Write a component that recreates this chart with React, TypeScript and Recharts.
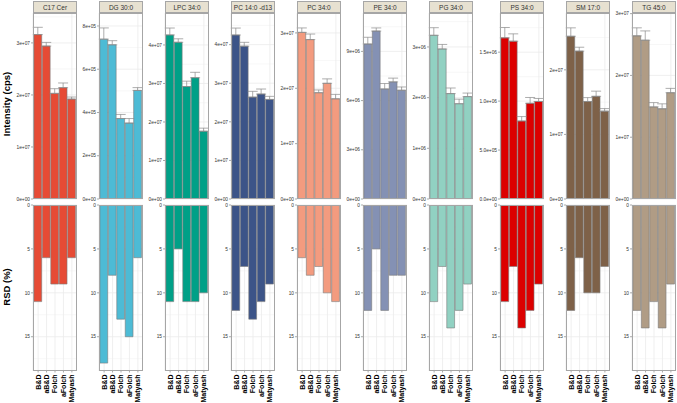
import React from 'react';
import { BarChart, Bar, XAxis, YAxis, CartesianGrid, ErrorBar } from 'recharts';

const methods = ['B&D', 'aB&D', 'Folch', 'aFolch', 'Matyash'];
const lipids = ['C17 Cer', 'DG 30:0', 'LPC 34:0', 'PC 14:0 -d13', 'PC 34:0', 'PE 34:0', 'PG 34:0', 'PS 34:0', 'SM 17:0', 'TG 45:0'];
const colors = ['#E64B35', '#4DBBD5', '#00A087', '#3C5488', '#F39B7F', '#8491B4', '#91D1C2', '#DC0000', '#7E6148', '#B09C85'];

// mean intensity (cps) per method
const meanC17Cer = [3.16e7, 2.94e7, 2.03e7, 2.14e7, 1.92e7];
const meanDG = [7.39e5, 7.13e5, 3.72e5, 3.51e5, 5.02e5];
const meanLPC = [4.26e7, 4.07e7, 2.92e7, 3.15e7, 1.76e7];
const meanPCd13 = [4.25e7, 3.96e7, 2.64e7, 2.72e7, 2.58e7];
const meanPC = [3.01e7, 2.88e7, 1.92e7, 2.09e7, 1.81e7];
const meanPE = [9.45e6, 1.024e7, 6.71e6, 7.14e6, 6.63e6];
const meanPG = [3.23e6, 2.96e6, 2.08e6, 1.88e6, 2.02e6];
const meanPS = [1.646e6, 1.612e6, 7.97e5, 9.78e5, 9.96e5];
const meanSM = [2.52e7, 2.29e7, 1.51e7, 1.59e7, 1.36e7];
const meanTG = [2.64e7, 2.57e7, 1.49e7, 1.46e7, 1.72e7];

// standard deviation (upper whisker)
const sdC17Cer = [1.4e6, 7e5, 9e5, 9e5, 4e5];
const sdDG = [5.2e4, 1.9e4, 1.9e4, 2.1e4, 1.3e4];
const sdLPC = [1.8e6, 9e5, 1.4e6, 1.4e6, 8e5];
const sdPCd13 = [1.8e6, 1.0e6, 1.5e6, 1.3e6, 8e5];
const sdPC = [8e5, 1.0e6, 5e5, 8e5, 8e5];
const sdPE = [4.1e5, 1.9e5, 3.3e5, 2.3e5, 2.0e5];
const sdPG = [1.5e5, 9e4, 1.1e5, 9e4, 7e4];
const sdPS = [1.06e5, 7.5e4, 4.5e4, 5.9e4, 3.1e4];
const sdSM = [1.3e6, 6e5, 6e5, 8e5, 4e5];
const sdTG = [1.3e6, 1.5e6, 7e5, 8e5, 7e5];

// RSD (%)
const rsdC17Cer = [11, 6, 9, 9, 6];
const rsdDG = [18, 8, 13, 15, 6];
const rsdLPC = [11, 5, 11, 11, 10];
const rsdPCd13 = [12, 7, 13, 11, 9];
const rsdPC = [6, 8, 7, 10, 11];
const rsdPE = [12, 5, 12, 8, 8];
const rsdPG = [11, 7, 14, 12, 9];
const rsdPS = [11, 7, 14, 12, 9];
const rsdSM = [12, 6, 10, 10, 7];
const rsdTG = [12, 14, 11, 14, 9];

// intensity axis ticks and labels
const ticksC17Cer = [0, 1e7, 2e7, 3e7];
const labelsC17Cer = ['0e+00', '1e+07', '2e+07', '3e+07'];
const ticksDG = [0, 2e5, 4e5, 6e5, 8e5];
const labelsDG = ['0e+00', '2e+05', '4e+05', '6e+05', '8e+05'];
const ticksLPC = [0, 1e7, 2e7, 3e7, 4e7];
const labelsLPC = ['0e+00', '1e+07', '2e+07', '3e+07', '4e+07'];
const ticksPCd13 = [0, 1e7, 2e7, 3e7, 4e7];
const labelsPCd13 = ['0e+00', '1e+07', '2e+07', '3e+07', '4e+07'];
const ticksPC = [0, 1e7, 2e7, 3e7];
const labelsPC = ['0e+00', '1e+07', '2e+07', '3e+07'];
const ticksPE = [0, 3e6, 6e6, 9e6];
const labelsPE = ['0e+00', '3e+06', '6e+06', '9e+06'];
const ticksPG = [0, 1e6, 2e6, 3e6];
const labelsPG = ['0e+00', '1e+06', '2e+06', '3e+06'];
const ticksPS = [0, 5e5, 1e6, 1.5e6];
const labelsPS = ['0.0e+00', '5.0e+05', '1.0e+06', '1.5e+06'];
const ticksSM = [0, 1e7, 2e7];
const labelsSM = ['0e+00', '1e+07', '2e+07'];
const ticksTG = [0, 1e7, 2e7, 3e7];
const labelsTG = ['0e+00', '1e+07', '2e+07', '3e+07'];

const axisMax = [3.575e7, 8.6e5, 4.83e7, 4.82e7, 3.36e7, 1.134e7, 3.67e6, 1.9e6, 2.88e7, 3.01e7];
const rsdTicks = [0, 5, 10, 15];
const rsdMax = 18.9;

const means = [meanC17Cer, meanDG, meanLPC, meanPCd13, meanPC, meanPE, meanPG, meanPS, meanSM, meanTG];
const sds = [sdC17Cer, sdDG, sdLPC, sdPCd13, sdPC, sdPE, sdPG, sdPS, sdSM, sdTG];
const rsds = [rsdC17Cer, rsdDG, rsdLPC, rsdPCd13, rsdPC, rsdPE, rsdPG, rsdPS, rsdSM, rsdTG];
const tickSets = [ticksC17Cer, ticksDG, ticksLPC, ticksPCd13, ticksPC, ticksPE, ticksPG, ticksPS, ticksSM, ticksTG];
const labelSets = [labelsC17Cer, labelsDG, labelsLPC, labelsPCd13, labelsPC, labelsPE, labelsPG, labelsPS, labelsSM, labelsTG];

// layout
const panelLeft = [33, 99, 165, 231, 297, 363, 429, 500, 566, 632];
const PW = 44;
const AXW = 30;
const TOP_Y = 13;
const TOP_H = 186;
const BOT_Y = 205;
const BOT_H = 166;
const XAX_H = 32;
const PAD = 5;
const FONT = 'Liberation Sans, Arial, sans-serif';
const BORDER = '#a6a6a6';
const GRID = '#ebebeb';

function minorsOf(ticks: number[], max: number) {
  const step = ticks[1] - ticks[0];
  const out: number[] = [];
  for (let v = step / 2; v < max; v += step) out.push(v);
  return out;
}

const MethodTick = (props: any) => {
  const { x, y, payload } = props;
  const yy = y;
  return (
    <text x={x} y={yy} transform={`rotate(-90 ${x} ${yy})`} textAnchor="end" dy="0.35em"
      fontSize={7} fontWeight="bold" fill="#000" fontFamily={FONT}>
      {payload.value}
    </text>
  );
};

function Facet({ i }: { i: number }) {
  const x = panelLeft[i];
  const color = colors[i];
  const ticks = tickSets[i];
  const labels = labelSets[i];
  const max = axisMax[i];
  const data = methods.map((m, k) => ({
    method: m,
    mean: means[i][k],
    err: [0, sds[i][k]],
    rsd: rsds[i][k],
  }));
  const minors = minorsOf(ticks, max);
  const rsdMinors = minorsOf(rsdTicks, rsdMax);
  const tickStyle = { fontSize: 4.8, fill: '#333', fontFamily: FONT };
  return (
    <>
      <div style={{
        position: 'absolute', left: x, top: 1, width: PW, height: 12, boxSizing: 'border-box',
        background: '#E7E1D1', border: `0.6px solid ${BORDER}`, fontFamily: FONT, fontSize: 6.5,
        color: '#333', textAlign: 'center', lineHeight: '11px', whiteSpace: 'nowrap',
      }}>{lipids[i]}</div>
      <div style={{ position: 'absolute', left: x - AXW, top: TOP_Y - PAD }}>
        <BarChart width={AXW + PW} height={TOP_H + 2 * PAD} data={data} margin={{ top: PAD, right: 0, bottom: PAD, left: 0 }}>
          <CartesianGrid stroke={GRID} strokeWidth={0.4} vertical={false} horizontalValues={minors} />
          <CartesianGrid stroke={GRID} strokeWidth={0.8} horizontalValues={ticks} />
          <XAxis dataKey="method" hide padding={{ left: 0.9, right: 0.9 }} />
          <YAxis width={AXW} domain={[0, max]} ticks={ticks} allowDataOverflow
            tickFormatter={(v: number) => labels[ticks.indexOf(v)] ?? ''}
            tick={tickStyle} tickLine={{ stroke: '#555', strokeWidth: 0.5 }} tickSize={2} tickMargin={1} axisLine={false} interval={0} />
          <Bar dataKey="mean" fill={color} stroke="#7a7a7a" strokeWidth={0.6} barSize={7.8} isAnimationActive={false}>
            <ErrorBar dataKey="err" direction="y" width={5} stroke="#8a8a8a" strokeWidth={0.7} />
          </Bar>
        </BarChart>
      </div>
      <div style={{ position: 'absolute', left: x, top: TOP_Y, width: PW, height: TOP_H, boxSizing: 'border-box', border: `1px solid ${BORDER}`, pointerEvents: 'none' }} />
      <div style={{ position: 'absolute', left: x - AXW, top: BOT_Y - PAD }}>
        <BarChart width={AXW + PW} height={BOT_H + XAX_H + PAD} data={data} margin={{ top: PAD, right: 0, bottom: 0, left: 0 }}>
          <CartesianGrid stroke={GRID} strokeWidth={0.4} vertical={false} horizontalValues={rsdMinors} />
          <CartesianGrid stroke={GRID} strokeWidth={0.8} horizontalValues={rsdTicks} />
          <XAxis dataKey="method" height={XAX_H} padding={{ left: 0.9, right: 0.9 }} interval={0}
            tick={<MethodTick />} tickLine={{ stroke: '#555', strokeWidth: 0.5 }} tickSize={1.5} axisLine={false} />
          <YAxis width={AXW} reversed domain={[0, rsdMax]} ticks={rsdTicks} allowDataOverflow
            tick={tickStyle} tickLine={{ stroke: '#555', strokeWidth: 0.5 }} tickSize={2} tickMargin={1} axisLine={false} interval={0} />
          <Bar dataKey="rsd" fill={color} stroke="#7a7a7a" strokeWidth={0.6} barSize={7.8} isAnimationActive={false} />
        </BarChart>
      </div>
      <div style={{ position: 'absolute', left: x, top: BOT_Y, width: PW, height: BOT_H, boxSizing: 'border-box', border: `1px solid ${BORDER}`, pointerEvents: 'none' }} />
    </>
  );
}

export default function App() {
  return (
    <div style={{ position: 'absolute', left: 0, top: 0, width: 677, height: 403, background: '#fff', overflow: 'hidden' }}>
      <svg width={677} height={403} style={{ position: 'absolute', left: 0, top: 0 }}>
        <text x={6} y={104} transform="rotate(-90 6 104)" textAnchor="middle" dominantBaseline="central"
          fontSize={9.5} fontWeight="bold" fontFamily={FONT} fill="#000">Intensity (cps)</text>
        <text x={6} y={287} transform="rotate(-90 6 287)" textAnchor="middle" dominantBaseline="central"
          fontSize={9.5} fontWeight="bold" fontFamily={FONT} fill="#000">RSD (%)</text>
      </svg>
      {lipids.map((_, i) => <Facet key={i} i={i} />)}
    </div>
  );
}
